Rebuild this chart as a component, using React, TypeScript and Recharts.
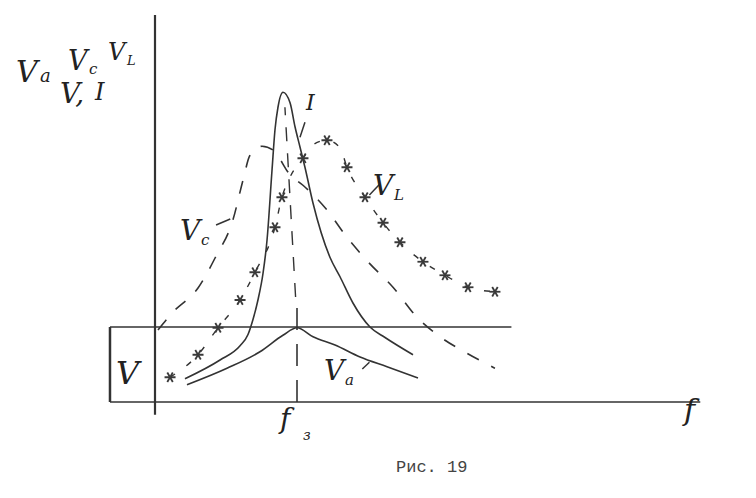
import React from "react";
import { ComposedChart, Line, XAxis, YAxis, ReferenceLine } from "recharts";

// frequency in arbitrary units (resonance ~ 10), voltages in units of V
const freqI = [2.11, 4.58, 5.99, 6.55, 6.9, 7.25, 7.61, 7.89, 8.24, 8.45, 8.66, 9.01, 9.51, 9.86, 10.21, 10.56, 11.13, 12.32, 13.03, 13.94, 15.14, 16.2, 18.17];
const valI = [0.31, 0.56, 0.75, 0.9, 1.1, 1.36, 1.72, 2.16, 3.09, 3.63, 3.93, 4.13, 3.99, 3.67, 3.4, 3.13, 2.65, 1.93, 1.67, 1.32, 1.0, 0.86, 0.63];

const freqVa = [2.25, 5.07, 7.39, 9.01, 10.0, 11.13, 12.68, 14.44, 16.34, 18.52];
const valVa = [0.23, 0.45, 0.67, 0.89, 0.99, 0.87, 0.76, 0.6, 0.47, 0.32];

const freqVc = [0.21, 1.27, 3.03, 4.23, 5.49, 6.2, 6.69, 7.54, 8.31, 9.51, 10.42, 12.11, 13.38, 15.0, 16.76, 18.45, 20.07, 21.97, 23.94];
const valVc = [0.96, 1.2, 1.52, 1.92, 2.43, 2.96, 3.29, 3.41, 3.36, 3.03, 2.89, 2.56, 2.23, 1.87, 1.53, 1.13, 0.87, 0.65, 0.45];

const freqVl = [1.06, 3.03, 4.44, 5.99, 7.04, 8.45, 8.94, 9.51, 10.42, 11.13, 12.11, 13.03, 13.52, 14.79, 16.06, 17.25, 18.87, 20.42, 22.04, 23.94];
const valVl = [0.33, 0.63, 0.99, 1.36, 1.73, 2.33, 2.73, 3.0, 3.25, 3.43, 3.49, 3.39, 3.13, 2.73, 2.39, 2.13, 1.87, 1.69, 1.53, 1.47];
// which V_L points were marked with a star
const starVl = [1, 1, 1, 1, 1, 1, 1, 0, 1, 0, 1, 0, 1, 1, 1, 1, 1, 1, 1, 1];

const levelV = 1;
const resonance = 10;

const ink = "#333";

const toData = (xs: number[], ys: number[]) => xs.map((x, i) => ({ x, y: ys[i], star: starVl[i] }));

const Star = (props: any) => {
  const { cx, cy, payload } = props;
  if (!payload || !payload.star) return <g />;
  const r = 5.5;
  return (
    <g stroke="#3a3a3a" strokeWidth={1.8}>
      <line x1={cx - r} y1={cy} x2={cx + r} y2={cy} />
      <line x1={cx - r * 0.5} y1={cy - r * 0.87} x2={cx + r * 0.5} y2={cy + r * 0.87} />
      <line x1={cx - r * 0.5} y1={cy + r * 0.87} x2={cx + r * 0.5} y2={cy - r * 0.87} />
    </g>
  );
};

const serif = { fontFamily: "DejaVu Serif", fontStyle: "italic" as const, fill: "#222" };

export default function App() {
  return (
    <div style={{ position: "absolute", left: 0, top: 0, width: 756, height: 498, background: "#fff" }}>
      <ComposedChart width={756} height={498} margin={{ top: 12, right: 47.2, bottom: 66, left: 98.2 }}>
        <XAxis type="number" dataKey="x" domain={[-4, 39]} hide allowDataOverflow />
        <YAxis type="number" dataKey="y" domain={[-0.4, 5.2]} hide allowDataOverflow />

        {/* axes */}
        <ReferenceLine segment={[{ x: 0, y: -0.17 }, { x: 0, y: 5.16 }]} stroke={ink} strokeWidth={2.2} />
        <ReferenceLine segment={[{ x: -3.17, y: 0 }, { x: 38.4, y: 0 }]} stroke={ink} strokeWidth={1.6} />
        <ReferenceLine segment={[{ x: -3.17, y: levelV }, { x: 25.1, y: levelV }]} stroke={ink} strokeWidth={1.6} />
        <ReferenceLine segment={[{ x: -3.17, y: 0 }, { x: -3.17, y: levelV }]} stroke={ink} strokeWidth={2.5} />

        {/* resonance line */}
        <ReferenceLine segment={[{ x: resonance, y: 0 }, { x: resonance, y: 1.4 }]} stroke={ink} strokeWidth={1.6} strokeDasharray="22 14" />
        <ReferenceLine segment={[{ x: resonance - 0.1, y: 1.4 }, { x: 9.15, y: 3.93 }]} stroke={ink} strokeWidth={1.4} strokeDasharray="14 12" />

        {/* leader ticks */}
        <ReferenceLine segment={[{ x: 10.56, y: 3.73 }, { x: 10.21, y: 3.53 }]} stroke={ink} strokeWidth={1.5} />
        <ReferenceLine segment={[{ x: 4.3, y: 2.36 }, { x: 5.3, y: 2.44 }]} stroke={ink} strokeWidth={1.5} />
        <ReferenceLine segment={[{ x: 15.1, y: 2.76 }, { x: 15.8, y: 2.9 }]} stroke={ink} strokeWidth={1.5} />
        <ReferenceLine segment={[{ x: 14.6, y: 0.44 }, { x: 15.1, y: 0.53 }]} stroke={ink} strokeWidth={1.5} />

        <Line data={toData(freqVc, valVc)} dataKey="y" type="monotone" stroke={ink} strokeWidth={1.6} strokeDasharray="13 14" dot={false} isAnimationActive={false} />
        <Line data={toData(freqVl, valVl)} dataKey="y" type="monotone" stroke={ink} strokeWidth={1.4} strokeDasharray="6 14" dot={(p: any) => <Star key={p.index} {...p} />} isAnimationActive={false} />
        <Line data={toData(freqI, valI)} dataKey="y" type="monotone" stroke={ink} strokeWidth={1.6} dot={false} isAnimationActive={false} />
        <Line data={toData(freqVa, valVa)} dataKey="y" type="monotone" stroke={ink} strokeWidth={1.6} dot={false} isAnimationActive={false} />
      </ComposedChart>

      <svg width={756} height={498} style={{ position: "absolute", left: 0, top: 0, pointerEvents: "none" }}>
        {/* axis title */}
        <text x={16} y={82} fontSize={30} {...serif}>V</text>
        <text x={40} y={82} fontSize={18} {...serif}>a</text>
        <text x={68} y={70} fontSize={27} {...serif}>V</text>
        <text x={89} y={74} fontSize={15} {...serif}>c</text>
        <text x={108} y={60} fontSize={24} {...serif}>V</text>
        <text x={127} y={65} fontSize={13} {...serif}>L</text>
        <text x={60} y={103} fontSize={28} {...serif}>V,</text>
        <text x={95} y={100} fontSize={24} {...serif}>I</text>

        <text x={116} y={384} fontSize={32} {...serif}>V</text>

        <text x={306} y={110} fontSize={22} {...serif}>I</text>
        <text x={180} y={240} fontSize={28} {...serif}>V</text>
        <text x={201} y={245} fontSize={15} {...serif}>c</text>
        <text x={373} y={195} fontSize={28} {...serif}>V</text>
        <text x={394} y={200} fontSize={15} {...serif}>L</text>
        <text x={324} y={380} fontSize={28} {...serif}>V</text>
        <text x={345} y={385} fontSize={15} {...serif}>a</text>

        <text x={280} y={428} fontSize={28} {...serif}>f</text>
        <text x={303} y={440} fontSize={14} {...serif}>з</text>
        <text x={684} y={420} fontSize={30} {...serif}>f</text>

        <text x={396} y={472} fontSize={17} fontFamily="Liberation Mono" fill="#444">Рис. 19</text>
      </svg>
    </div>
  );
}
